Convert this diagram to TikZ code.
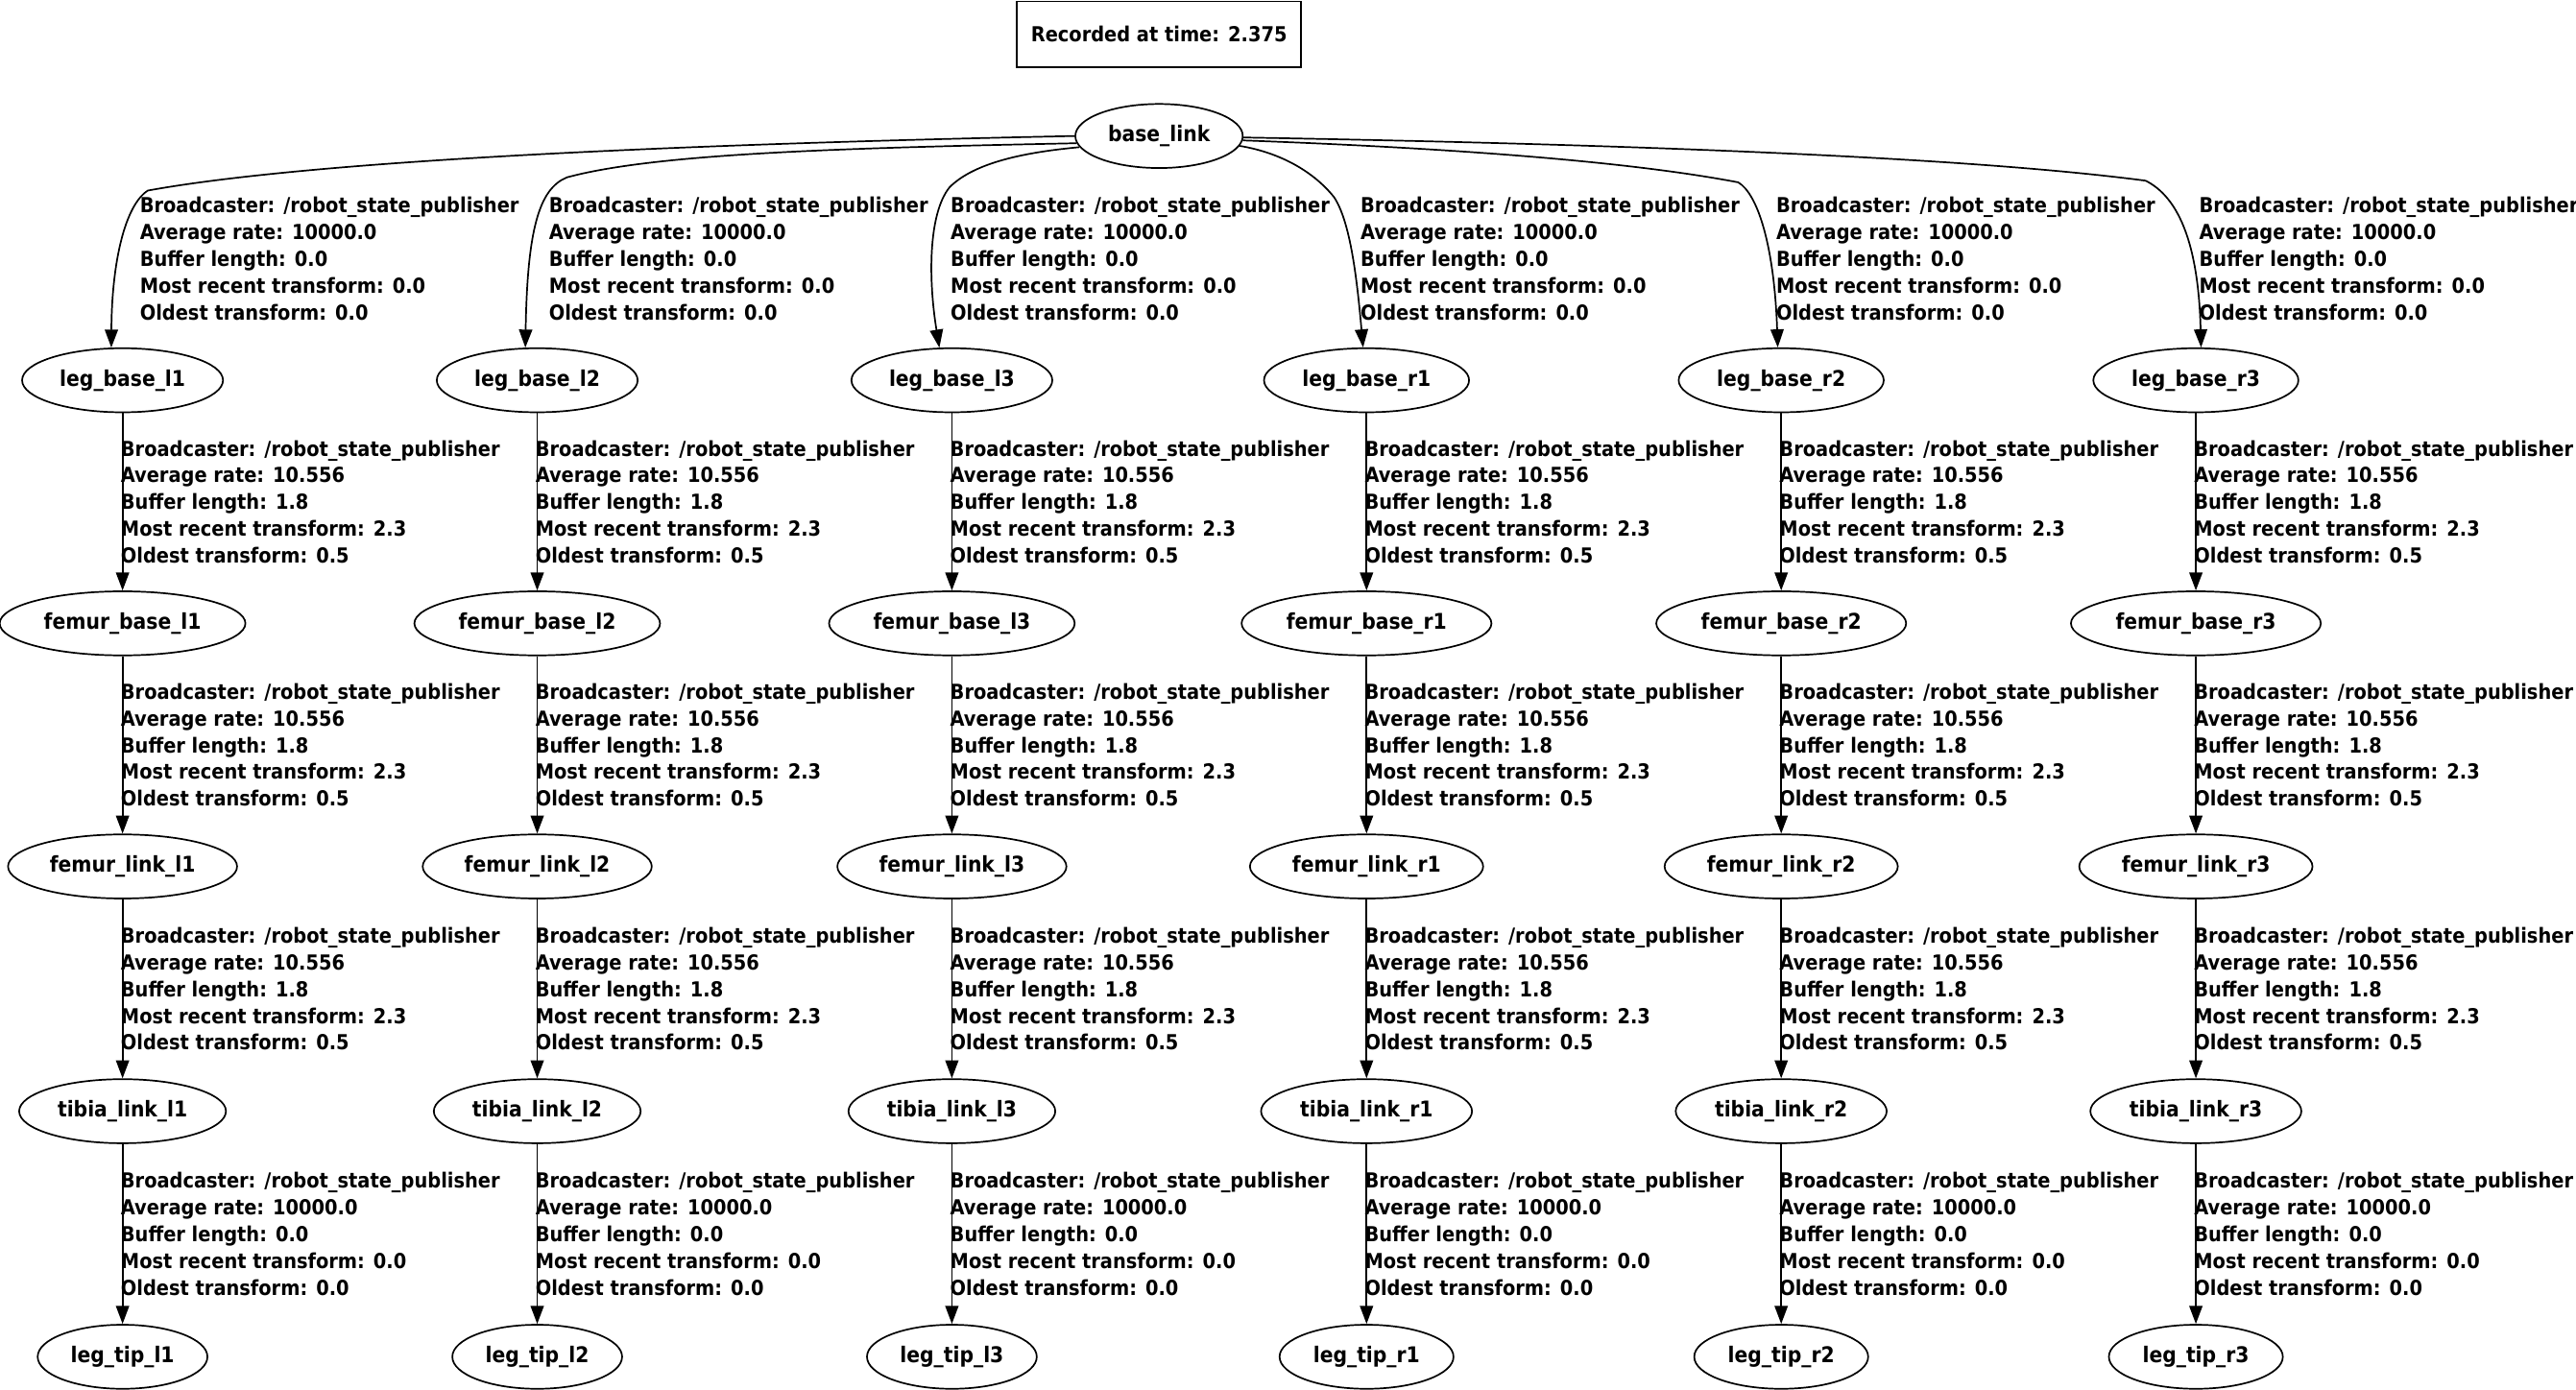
\documentclass[tikz,border=0pt]{standalone}
\usepackage{fontspec}
\setmainfont{DejaVu Sans Condensed}
\usetikzlibrary{arrows.meta,shapes.geometric}
\newcommand{\labA}{Broadcaster: /robot\_state\_publisher\\Average rate: 10000.0\\Buffer length: 0.0\\Most recent transform: 0.0\\Oldest transform: 0.0}
\newcommand{\labB}{Broadcaster: /robot\_state\_publisher\\Average rate: 10.556\\Buffer length: 1.8\\Most recent transform: 2.3\\Oldest transform: 0.5}
\begin{document}
\begin{tikzpicture}[x=1pt,y=1pt,
  every node/.style={font=\fontsize{12.6}{16.3}\selectfont\bfseries},
  tfnode/.style={draw, ellipse, line width=1pt, minimum height=39pt, inner xsep=5pt, inner ysep=0pt, font=\fontsize{13.2}{16}\selectfont\bfseries},
  titlebox/.style={draw, rectangle, line width=1pt, minimum width=173pt, minimum height=40pt},
  tfedge/.style={draw, line width=1pt, -{Triangle[length=11pt,width=8pt]}},
  lbl/.style={align=left, inner sep=0pt, anchor=west}]
\useasboundingbox (0,0) rectangle (1568,-846);
\node[titlebox] (title) at (705.5,-20.8) {Recorded at time: 2.375};
\node[tfnode] (base) at (705.5,-82.8) {base\_link};
\foreach \n/\x in {l1/74.6, l2/327, l3/579.4, r1/831.8, r2/1084.2, r3/1336.6} {
  \node[tfnode] (lb-\n) at (\x,-231.5) {leg\_base\_\n};
  \node[tfnode] (fb-\n) at (\x,-379.5) {femur\_base\_\n};
  \node[tfnode] (fl-\n) at (\x,-527.5) {femur\_link\_\n};
  \node[tfnode] (tl-\n) at (\x,-676.5) {tibia\_link\_\n};
  \node[tfnode] (lt-\n) at (\x,-826) {leg\_tip\_\n};
  \draw[tfedge] (lb-\n) -- node[lbl, xshift=-1.5pt]{\labB} (fb-\n);
  \draw[tfedge] (fb-\n) -- node[lbl, xshift=-1.5pt]{\labB} (fl-\n);
  \draw[tfedge] (fl-\n) -- node[lbl, xshift=-1.5pt]{\labB} (tl-\n);
  \draw[tfedge] (tl-\n) -- node[lbl, xshift=-1.5pt]{\labA} (lt-\n);
}
\draw[tfedge] (base.west) .. controls (450,-87) and (200,-96) .. (90,-116) .. controls (76,-125) and (68,-160) .. (lb-l1.109);
\draw[tfedge] (base.185) .. controls (520,-90) and (400,-93) .. (345,-108) .. controls (328,-115) and (321,-140) .. (lb-l2.110);
\draw[tfedge] (base.188) .. controls (620,-93) and (592,-100) .. (578,-114) .. controls (565,-130) and (565,-170) .. (lb-l3.111);
\draw[tfedge] (base.-7) .. controls (780,-93) and (800,-105) .. (812,-120) .. controls (822,-135) and (826,-170) .. (lb-r1.96);
\draw[tfedge] (base.-3) .. controls (880,-90) and (990,-98) .. (1058,-111) .. controls (1070,-118) and (1080,-150) .. (lb-r2.96);
\draw[tfedge] (base.-1) .. controls (1000,-88) and (1200,-96) .. (1306,-110) .. controls (1322,-118) and (1338,-140) .. (lb-r3.81);
\node[lbl] (t-l1) at (85,-157.5) {\labA};
\node[lbl] (t-l2) at (334,-157.5) {\labA};
\node[lbl] (t-l3) at (578.5,-157.5) {\labA};
\node[lbl] (t-r1) at (828,-157.5) {\labA};
\node[lbl] (t-r2) at (1081,-157.5) {\labA};
\node[lbl] (t-r3) at (1338.5,-157.5) {\labA};
\end{tikzpicture}
\end{document}
